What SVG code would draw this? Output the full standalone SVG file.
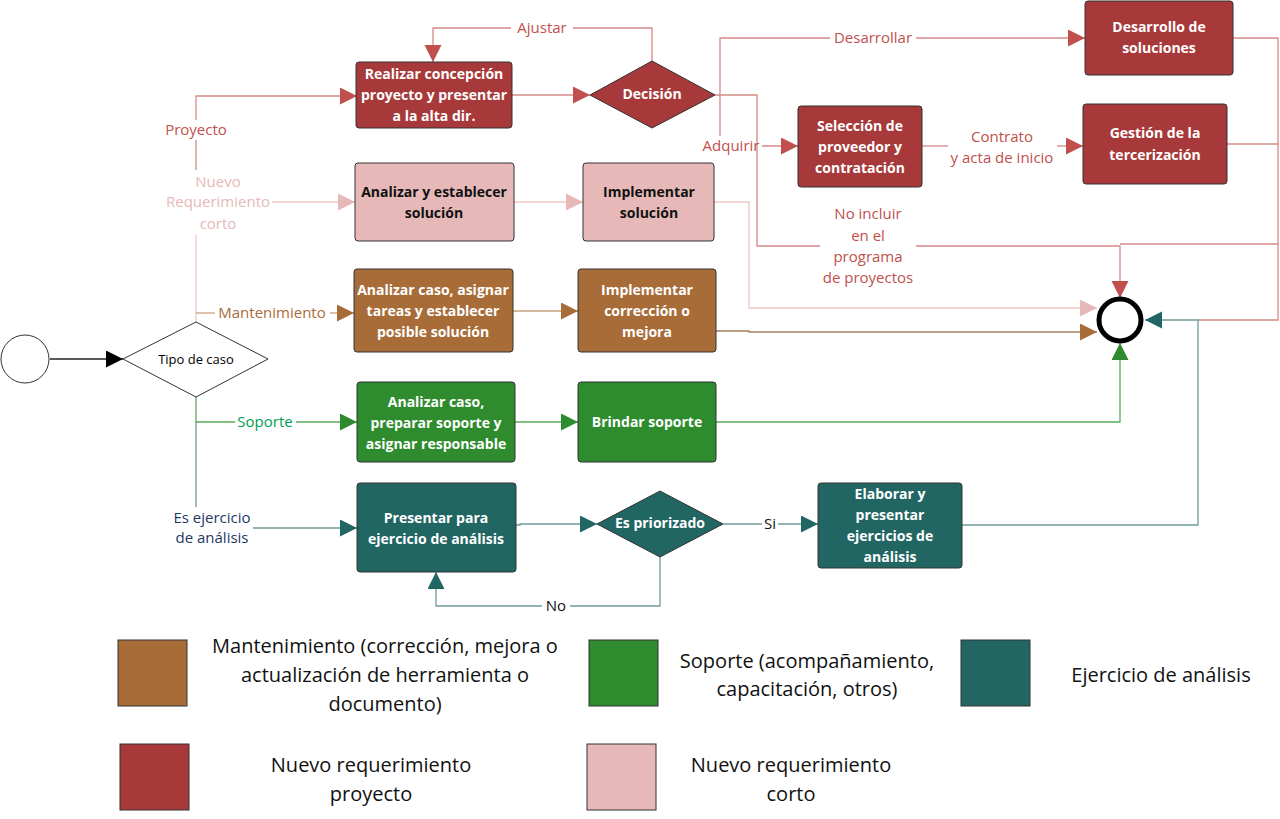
<svg xmlns="http://www.w3.org/2000/svg" width="1280" height="819" viewBox="0 0 1280 819">
<style>
.box{stroke:#333;stroke-width:1}
.red{fill:#A8393A}.pink{fill:#E6B9B8}.brown{fill:#A86C38}.green{fill:#2E8B2E}.teal{fill:#226664}
.bt{font-family:"Open Sans","Noto Sans",sans-serif;font-weight:bold;font-size:14px;fill:#fff;text-anchor:middle}
.bt.dk{fill:#111}
.lb{font-family:"Open Sans","Noto Sans",sans-serif;font-size:15px;text-anchor:middle}
.lg{font-family:"Open Sans","Noto Sans",sans-serif;font-size:20px;fill:#111;text-anchor:middle}
.c{fill:none;stroke-width:1.3}
.cr{stroke:#D48A87}.cp{stroke:#F0C6C4}.cb{stroke:#C9A07E}.cb2{stroke:#A8805E}.cg{stroke:#5BAA5B}.ct{stroke:#6E9C9A}.ck{stroke:#222}
</style>
<defs>
<marker id="ak" markerUnits="userSpaceOnUse" markerWidth="18" markerHeight="18" refX="17" refY="8.5" orient="auto"><path d="M0,0 L17,8.5 L0,17 z" fill="#000"/></marker>
<marker id="ar" markerUnits="userSpaceOnUse" markerWidth="18" markerHeight="18" refX="17" refY="8.5" orient="auto"><path d="M0,0 L17,8.5 L0,17 z" fill="#C0504D"/></marker>
<marker id="ap" markerUnits="userSpaceOnUse" markerWidth="18" markerHeight="18" refX="17" refY="8.5" orient="auto"><path d="M0,0 L17,8.5 L0,17 z" fill="#E6B9B8"/></marker>
<marker id="ab" markerUnits="userSpaceOnUse" markerWidth="18" markerHeight="18" refX="17" refY="8.5" orient="auto"><path d="M0,0 L17,8.5 L0,17 z" fill="#A86C38"/></marker>
<marker id="ag" markerUnits="userSpaceOnUse" markerWidth="18" markerHeight="18" refX="17" refY="8.5" orient="auto"><path d="M0,0 L17,8.5 L0,17 z" fill="#2E8B2E"/></marker>
<marker id="at" markerUnits="userSpaceOnUse" markerWidth="18" markerHeight="18" refX="17" refY="8.5" orient="auto"><path d="M0,0 L17,8.5 L0,17 z" fill="#226664"/></marker>
</defs>
<rect width="1280" height="819" fill="#fff"/>

<g id="connectors">
<path class="c ck" d="M50,359 H123" marker-end="url(#ak)"/>
<path class="c cr" d="M196,120 V96 H357" marker-end="url(#ar)"/>
<path class="c cr" d="M196,140 V170"/>
<path class="c cp" d="M196,235 V322"/>
<path class="c cp" d="M272,202 H355" marker-end="url(#ap)"/>
<path class="c cb" d="M196,313 H215"/>
<path class="c cb" d="M330,313 H354" marker-end="url(#ab)"/>
<path class="c cg" d="M196,397 V422 H235"/>
<path class="c cg" d="M296,422 H357" marker-end="url(#ag)"/>
<path class="c ct" d="M196,422 V507"/>
<path class="c ct" d="M253,528 H357" marker-end="url(#at)"/>
<path class="c cr" d="M512,95 H590" marker-end="url(#ar)"/>
<path class="c cr" d="M652,61 V28 H573"/>
<path class="c cr" d="M511,28 H433 V62" marker-end="url(#ar)"/>
<path class="c cr" d="M720,136 V38 H830"/>
<path class="c cr" d="M916,38 H1085" marker-end="url(#ar)"/>
<path class="c cr" d="M762,146 H798" marker-end="url(#ar)"/>
<path class="c cr" d="M715,95 H757 V246 H820"/>
<path class="c cr" d="M922,146 H948"/>
<path class="c cr" d="M1057,146 H1083" marker-end="url(#ar)"/>
<path class="c cr" d="M916,246 H1120 V298" marker-end="url(#ar)"/>
<path class="c cr" d="M1120,244 H1278"/>
<path class="c cr" d="M1233,38 H1278 V320 H1198"/>
<path class="c cr" d="M1227,144 H1278"/>
<path class="c cp" d="M514,202 H583" marker-end="url(#ap)"/>
<path class="c cp" d="M714,202 H749 V308 H1097" marker-end="url(#ap)"/>
<path class="c cb" d="M513,311 H578" marker-end="url(#ab)"/>
<path class="c cb2" d="M716,331 H749 V332 H1097" marker-end="url(#ab)"/>
<path class="c cg" d="M515,422 H578" marker-end="url(#ag)"/>
<path class="c cg" d="M716,422 H1120 V343" marker-end="url(#ag)"/>
<path class="c ct" d="M516,525 H520 V524 H597" marker-end="url(#at)"/>
<path class="c ct" d="M723,524 H762"/>
<path class="c ct" d="M778,524 H818" marker-end="url(#at)"/>
<path class="c ct" d="M660,557 V606 H570"/>
<path class="c ct" d="M542,606 H436 V572" marker-end="url(#at)"/>
<path class="c ct" d="M962,525 H1198 V320 H1145" marker-end="url(#at)"/>
</g>

<g id="labels">
<text class="lb" x="196" y="135" fill="#C0504D">Proyecto</text>
<text class="lb" fill="#E6B9B8"><tspan x="218" y="187">Nuevo</tspan><tspan x="218" y="207">Requerimiento</tspan><tspan x="218" y="229">corto</tspan></text>
<text class="lb" x="272" y="318" fill="#A86C38">Mantenimiento</text>
<text class="lb" x="265" y="427" fill="#00A050">Soporte</text>
<text class="lb" fill="#1F3864"><tspan x="212" y="523">Es ejercicio</tspan><tspan x="212" y="543">de análisis</tspan></text>
<text class="lb" x="542" y="33" fill="#C0504D">Ajustar</text>
<text class="lb" x="873" y="43" fill="#C0504D">Desarrollar</text>
<text class="lb" x="731" y="151" fill="#C0504D">Adquirir</text>
<text class="lb" fill="#C0504D"><tspan x="1002" y="142">Contrato</tspan><tspan x="1002" y="163">y acta de inicio</tspan></text>
<text class="lb" fill="#C0504D"><tspan x="868" y="219">No incluir</tspan><tspan x="868" y="241">en el</tspan><tspan x="868" y="262">programa</tspan><tspan x="868" y="283">de proyectos</tspan></text>
<text class="lb" x="770" y="529" fill="#111">Si</text>
<text class="lb" x="556" y="611" fill="#111">No</text>
</g>

<g id="start"><circle cx="25" cy="359" r="24" fill="#fff" stroke="#333" stroke-width="1"/></g>
<g id="tipo"><polygon points="123,359 196,322 268,359 196,397" fill="#fff" stroke="#333" stroke-width="1"/><text x="196" y="364" font-family="Open Sans, Noto Sans, sans-serif" font-size="13" fill="#000" text-anchor="middle">Tipo de caso</text></g>

<g id="realizar"><rect class="box red" x="356" y="62" width="156" height="66" rx="3"/><text class="bt"><tspan x="434" y="79">Realizar concepción</tspan><tspan x="434" y="100">proyecto y presentar</tspan><tspan x="434" y="121">a la alta dir.</tspan></text></g>
<g id="decision"><polygon class="red" points="590,95 652,61 715,95 652,128" stroke="#333" stroke-width="1"/><text class="bt" x="652" y="99" font-size="12">Decisión</text></g>
<g id="analizar-sol"><rect class="box pink" x="355" y="163" width="159" height="78" rx="3"/><text class="bt dk"><tspan x="434" y="197">Analizar y establecer</tspan><tspan x="434" y="218">solución</tspan></text></g>
<g id="impl-sol"><rect class="box pink" x="583" y="163" width="131" height="78" rx="3"/><text class="bt dk"><tspan x="649" y="197">Implementar</tspan><tspan x="649" y="218">solución</tspan></text></g>
<g id="analizar-mant"><rect class="box brown" x="354" y="269" width="159" height="83" rx="3"/><text class="bt"><tspan x="433" y="295">Analizar caso, asignar</tspan><tspan x="433" y="316">tareas y establecer</tspan><tspan x="433" y="337">posible solución</tspan></text></g>
<g id="impl-mant"><rect class="box brown" x="578" y="269" width="138" height="83" rx="3"/><text class="bt"><tspan x="647" y="295">Implementar</tspan><tspan x="647" y="316">corrección o</tspan><tspan x="647" y="337">mejora</tspan></text></g>
<g id="analizar-sop"><rect class="box green" x="357" y="382" width="158" height="80" rx="3"/><text class="bt"><tspan x="436" y="407">Analizar caso,</tspan><tspan x="436" y="428">preparar soporte y</tspan><tspan x="436" y="449">asignar responsable</tspan></text></g>
<g id="brindar"><rect class="box green" x="578" y="382" width="138" height="80" rx="3"/><text class="bt" x="647" y="427">Brindar soporte</text></g>
<g id="presentar"><rect class="box teal" x="357" y="483" width="159" height="89" rx="3"/><text class="bt"><tspan x="436" y="523">Presentar para</tspan><tspan x="436" y="544">ejercicio de análisis</tspan></text></g>
<g id="priorizado"><polygon class="teal" points="597,524 660,491 723,524 660,557" stroke="#333" stroke-width="1"/><text class="bt" x="660" y="528" font-size="12">Es priorizado</text></g>
<g id="elaborar"><rect class="box teal" x="818" y="483" width="144" height="85" rx="3"/><text class="bt"><tspan x="890" y="499">Elaborar y</tspan><tspan x="890" y="520">presentar</tspan><tspan x="890" y="541">ejercicios de</tspan><tspan x="890" y="562">análisis</tspan></text></g>
<g id="seleccion"><rect class="box red" x="798" y="106" width="124" height="81" rx="3"/><text class="bt"><tspan x="860" y="131">Selección de</tspan><tspan x="860" y="152">proveedor y</tspan><tspan x="860" y="173">contratación</tspan></text></g>
<g id="desarrollo"><rect class="box red" x="1085" y="1" width="148" height="74" rx="3"/><text class="bt"><tspan x="1159" y="32">Desarrollo de</tspan><tspan x="1159" y="53">soluciones</tspan></text></g>
<g id="gestion"><rect class="box red" x="1083" y="104" width="144" height="80" rx="3"/><text class="bt"><tspan x="1155" y="138">Gestión de la</tspan><tspan x="1155" y="160">tercerización</tspan></text></g>
<g id="end"><circle cx="1120" cy="320" r="21" fill="#fff" stroke="#000" stroke-width="5"/></g>

<g id="legend">
<rect class="box brown" x="118" y="640" width="69" height="66"/>
<text class="lg"><tspan x="385" y="653">Mantenimiento (corrección, mejora o</tspan><tspan x="385" y="682">actualización de herramienta o</tspan><tspan x="385" y="711">documento)</tspan></text>
<rect class="box green" x="589" y="640" width="69" height="66"/>
<text class="lg"><tspan x="807" y="668">Soporte (acompañamiento,</tspan><tspan x="807" y="696">capacitación, otros)</tspan></text>
<rect class="box teal" x="961" y="640" width="69" height="66"/>
<text class="lg" x="1161" y="682">Ejercicio de análisis</text>
<rect class="box red" x="120" y="744" width="69" height="66"/>
<text class="lg"><tspan x="371" y="772">Nuevo requerimiento</tspan><tspan x="371" y="801">proyecto</tspan></text>
<rect class="box pink" x="587" y="744" width="69" height="66"/>
<text class="lg"><tspan x="791" y="772">Nuevo requerimiento</tspan><tspan x="791" y="801">corto</tspan></text>
</g>
</svg>
